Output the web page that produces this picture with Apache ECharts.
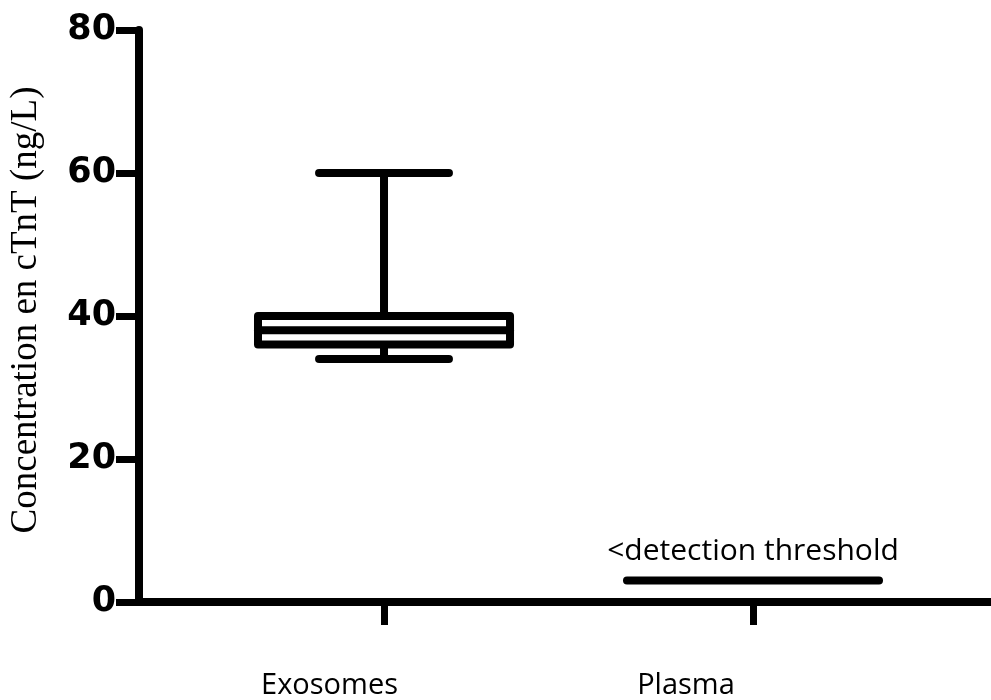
<!DOCTYPE html>
<html>
<head>
<meta charset="utf-8">
<script src="https://cdn.jsdelivr.net/npm/echarts@6/dist/echarts.min.js"></script>
<style>
html,body{margin:0;padding:0;background:#fff;}
#c{width:991px;height:700px;}
</style>
</head>
<body>
<div id="c"></div>
<script>
// ---- data ----
const categories = ['Exosomes', 'Plasma'];
const categoryPositions = [1, 2];
// [min, Q1, median, Q3, max]
const exosomesBox = [34, 36, 38, 40, 60];
const plasmaThreshold = 3;
const thresholdLabel = '<detection threshold';
const yTicks = [0, 20, 40, 60, 80];
const yTitle = 'Concentration en cTnT (ng/L)';

const chart = echarts.init(document.getElementById('c'));

const BOX_HALF = 0.3415;
const CAP_HALF = 0.176;
const LW = 8;

function boxItem(params, api) {
  const x = api.value(0);
  const lo = api.value(1), q1 = api.value(2), med = api.value(3), q3 = api.value(4), hi = api.value(5);
  const pL = api.coord([x - BOX_HALF, q3]);
  const pR = api.coord([x + BOX_HALF, q1]);
  const pC = api.coord([x, med]);
  const pHi = api.coord([x, hi]);
  const pLo = api.coord([x, lo]);
  const capL = api.coord([x - CAP_HALF, hi])[0];
  const capR = api.coord([x + CAP_HALF, hi])[0];
  const pQ1 = api.coord([x, q1]);
  const pQ3 = api.coord([x, q3]);
  const st = {stroke: '#000', lineWidth: LW, lineCap: 'round', lineJoin: 'round', fill: null};
  return {
    type: 'group',
    children: [
      {type: 'line', shape: {x1: pHi[0], y1: pHi[1], x2: pQ3[0], y2: pQ3[1]}, style: st},
      {type: 'line', shape: {x1: pLo[0], y1: pLo[1], x2: pQ1[0], y2: pQ1[1]}, style: st},
      {type: 'line', shape: {x1: capL, y1: pHi[1], x2: capR, y2: pHi[1]}, style: st},
      {type: 'line', shape: {x1: capL, y1: pLo[1], x2: capR, y2: pLo[1]}, style: st},
      {type: 'rect', shape: {x: pL[0], y: pL[1], width: pR[0] - pL[0], height: pR[1] - pL[1]},
        style: {stroke: '#000', lineWidth: LW, lineJoin: 'round', fill: '#fff'}},
      {type: 'line', shape: {x1: pL[0], y1: pC[1], x2: pR[0], y2: pC[1]}, style: st}
    ]
  };
}

function thresholdItem(params, api) {
  const x = api.value(0), v = api.value(1);
  const a = api.coord([x - BOX_HALF, v]);
  const b = api.coord([x + BOX_HALF, v]);
  const c = api.coord([x, v]);
  return {
    type: 'group',
    children: [
      {type: 'line', shape: {x1: a[0], y1: a[1], x2: b[0], y2: b[1]},
        style: {stroke: '#000', lineWidth: LW, lineCap: 'round'}},
      {type: 'text', x: c[0], y: c[1] - 14,
        style: {text: thresholdLabel, fill: '#000', font: '30px "Open Sans"', textAlign: 'center', textVerticalAlign: 'bottom'}}
    ]
  };
}

chart.setOption({
  animation: false,
  backgroundColor: '#fff',
  grid: {left: 139, right: 0, top: 30, bottom: 98, containLabel: false, outerBoundsMode: 'none'},
  xAxis: {
    type: 'value',
    min: 0.336, max: 2.645,
    splitLine: {show: false},
    axisLine: {show: true, lineStyle: {color: '#000', width: 8}},
    axisTick: {show: true, customValues: categoryPositions, length: 23, lineStyle: {color: '#000', width: 7}},
    axisLabel: {
      show: true, customValues: categoryPositions, margin: 69,
      formatter: function (v) { const i = categoryPositions.indexOf(v); return i === 0 ? '{a|' + categories[0] + '}' : '{b|' + categories[1] + '}'; },
      rich: {
        a: {fontFamily: 'Open Sans', fontSize: 29, color: '#000', padding: [0, 109, 0, 0]},
        b: {fontFamily: 'Open Sans', fontSize: 29, color: '#000', padding: [0, 134, 0, 0]}
      }
    }
  },
  yAxis: {
    type: 'value',
    min: 0, max: 80, interval: 20,
    name: yTitle,
    nameLocation: 'middle',
    nameGap: 94,
    nameRotate: 90,
    nameTextStyle: {fontFamily: 'Liberation Serif', fontSize: 37, color: '#000', padding: [0, 0, 0, 12]},
    splitLine: {show: false},
    axisLine: {show: true, lineStyle: {color: '#000', width: 8}},
    axisTick: {show: true, length: 23, lineStyle: {color: '#000', width: 7}},
    axisLabel: {margin: 23, fontFamily: 'DejaVu Sans', fontWeight: 'bold', fontSize: 35, color: '#000',
      formatter: function (v) { return yTicks.indexOf(v) >= 0 ? String(v) : ''; }}
  },
  series: [
    {type: 'custom', renderItem: boxItem, data: [[categoryPositions[0]].concat(exosomesBox)], encode: {x: 0, y: [1, 2, 3, 4, 5]}, clip: false},
    {type: 'custom', renderItem: thresholdItem, data: [[categoryPositions[1], plasmaThreshold]], encode: {x: 0, y: 1}, clip: false}
  ]
});
</script>
</body>
</html>
